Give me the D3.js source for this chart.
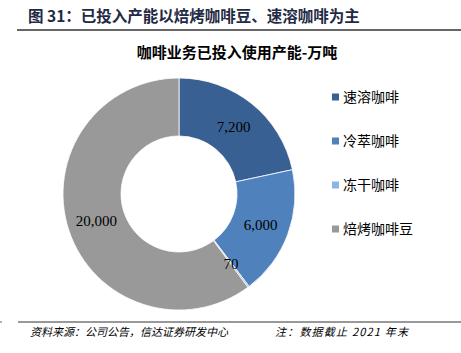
<!DOCTYPE html>
<html><head><meta charset="utf-8">
<script src="https://cdn.jsdelivr.net/npm/d3@7"></script>
<style>body{margin:0;background:#fff}</style>
</head><body>
<script>
const categories = ["速溶咖啡", "冷萃咖啡", "冻干咖啡", "焙烤咖啡豆"];
const values = [7200, 6000, 70, 20000];
const labels = ["7,200", "6,000", "70", "20,000"];
const colors = ["#386092", "#4F81BD", "#8DB4E2", "#999999"];

const W = 461, H = 353;
const svg = d3.select("body").append("svg").attr("width", W).attr("height", H);
const cjk = "'Noto Sans CJK SC', sans-serif";
const serif = "'Liberation Serif', 'Times New Roman', serif";

svg.append("text").attr("x", 28).attr("y", 22).attr("font-family", cjk)
  .attr("font-weight", "bold").attr("font-size", 15.5).attr("fill", "#1f2a44")
  .text("图 31：已投入产能以焙烤咖啡豆、速溶咖啡为主");
svg.append("line").attr("x1", 17).attr("x2", W).attr("y1", 30).attr("y2", 30)
  .attr("stroke", "#666").attr("stroke-width", 2);

svg.append("text").attr("x", 237).attr("y", 58).attr("text-anchor", "middle")
  .attr("font-family", cjk).attr("font-weight", "bold").attr("font-size", 15).attr("fill", "#000")
  .text("咖啡业务已投入使用产能-万吨");

const cx = 179, cy = 194, R = 116, r = 58;
const pie = d3.pie().sort(null).value(d => d)(values);
const arc = d3.arc().innerRadius(r).outerRadius(R);
const g = svg.append("g").attr("transform", `translate(${cx},${cy})`);
g.selectAll("path").data(pie).join("path").attr("d", arc)
  .attr("fill", (d, i) => colors[i]).attr("stroke", "#fff").attr("stroke-width", 0.8);

const labelArc = d3.arc().innerRadius((R + r) / 2).outerRadius((R + r) / 2);
g.selectAll("text.lbl").data(pie).join("text").attr("class", "lbl")
  .attr("transform", d => `translate(${labelArc.centroid(d)})`)
  .attr("text-anchor", "middle").attr("dy", "0.35em")
  .attr("font-family", serif).attr("font-size", 15).attr("fill", "#000")
  .text((d, i) => labels[i]);

const leg = svg.append("g");
categories.forEach((c, i) => {
  const y = 97 + i * 44;
  leg.append("rect").attr("x", 332).attr("y", y - 3.5).attr("width", 7).attr("height", 7).attr("fill", colors[i]);
  leg.append("text").attr("x", 343).attr("y", y).attr("dy", "0.35em")
    .attr("font-family", cjk).attr("font-size", 14).attr("fill", "#000").text(c);
});

svg.append("line").attr("x1", 0).attr("x2", 2).attr("y1", 322).attr("y2", 322)
  .attr("stroke", "#666").attr("stroke-width", 1);
svg.append("line").attr("x1", 18).attr("x2", W).attr("y1", 322).attr("y2", 322)
  .attr("stroke", "#333").attr("stroke-width", 1);
svg.append("text").attr("x", 30).attr("y", 336).attr("font-family", cjk)
  .attr("font-style", "italic").attr("font-size", 11).attr("fill", "#000")
  .text("资料来源：公司公告，信达证券研发中心");
svg.append("text").attr("x", 275).attr("y", 336).attr("font-family", cjk)
  .attr("font-style", "italic").attr("font-size", 11).attr("fill", "#000")
  .attr("textLength", 133).attr("lengthAdjust", "spacing")
  .text("注：数据截止 2021 年末");
</script>
</body></html>
